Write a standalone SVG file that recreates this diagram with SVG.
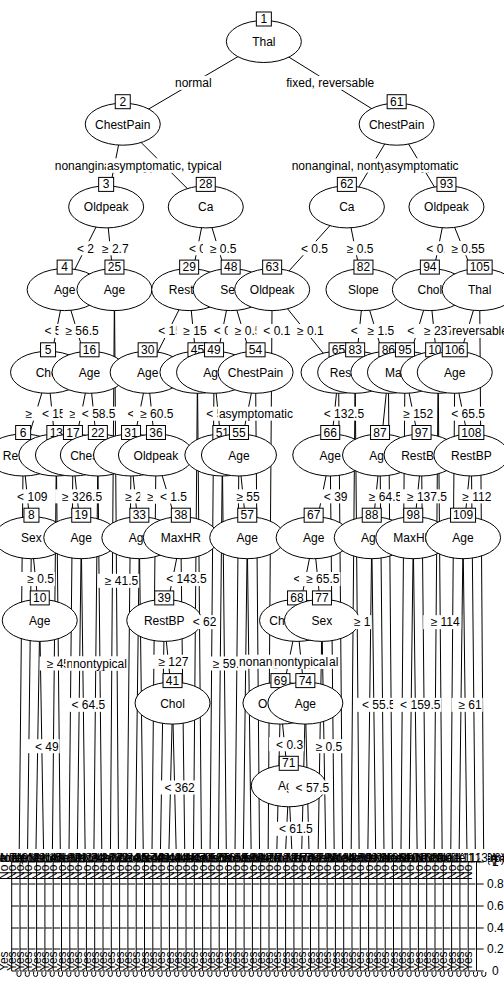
<svg xmlns="http://www.w3.org/2000/svg" width="504" height="1008" viewBox="0 0 504 1008">
<style>
.e{fill:#fff;stroke:#000}
.b{fill:#fff;stroke:#000}
.w{fill:#fff}
text{font-family:'Liberation Sans',Arial,sans-serif;font-size:12px;text-anchor:middle;fill:#000}
.c path{stroke:#000;fill:none}
.ax{text-anchor:start}
.r{text-anchor:start}
</style>
<defs>
<g id="tp"><rect x="-4.15" y="849" width="8.3" height="135" fill="#fff"/><path d="M-7.3 862V971M-7.3 862h7.2M-7.3 884h7.2M-7.3 906h7.2M-7.3 928h7.2M-7.3 949h7.2M-7.3 971h7.2M-2 972v2.5a2 2 0 0 0 4 0V972" stroke="#000" fill="none"/><text class="r" transform="translate(-11.5 880) rotate(-90)">No</text><text class="r" transform="translate(-11.5 971) rotate(-90)">Yes</text></g>
</defs>
<rect width="504" height="1008" fill="#fff"/>
<g class="c">
<path d="M263.85 41.5L122.75 124.2M263.85 41.5L396.65 124.2M122.75 124.2L106.15 206.9M122.75 124.2L205.75 206.9M106.15 206.9L64.65 289.6M106.15 206.9L114.45 289.6M64.65 289.6L48.05 372.3M64.65 289.6L89.55 372.3M48.05 372.3L23.15 455M48.05 372.3L56.35 455M23.15 455L19 872M23.15 455L31.45 537.7M31.45 537.7L27.3 872M31.45 537.7L39.75 620.4M39.75 620.4L35.6 872M39.75 620.4L43.9 872M56.35 455L52.2 872M56.35 455L60.5 872M89.55 372.3L72.95 455M89.55 372.3L97.85 455M72.95 455L68.8 872M72.95 455L81.25 537.7M81.25 537.7L77.1 872M81.25 537.7L85.4 872M97.85 455L93.7 872M97.85 455L102 872M114.45 289.6L110.3 872M114.45 289.6L118.6 872"/>
<path d="M205.75 206.9L189.15 289.6M205.75 206.9L230.65 289.6M189.15 289.6L147.65 372.3M189.15 289.6L197.45 372.3M147.65 372.3L131.05 455M147.65 372.3L155.95 455M131.05 455L126.9 872M131.05 455L139.35 537.7M139.35 537.7L135.2 872M139.35 537.7L143.5 872M155.95 455L151.8 872M155.95 455L180.85 537.7M180.85 537.7L164.25 620.4M180.85 537.7L185 872M164.25 620.4L160.1 872M164.25 620.4L172.55 703.1M172.55 703.1L168.4 872M172.55 703.1L176.7 872M197.45 372.3L193.3 872M197.45 372.3L201.6 872M230.65 289.6L214.05 372.3M230.65 289.6L255.55 372.3M214.05 372.3L209.9 872M214.05 372.3L222.35 455M222.35 455L218.2 872M222.35 455L226.5 872M255.55 372.3L238.95 455M255.55 372.3L259.7 872M238.95 455L234.8 872M238.95 455L247.25 537.7M247.25 537.7L243.1 872M247.25 537.7L251.4 872"/>
<path d="M396.65 124.2L346.85 206.9M396.65 124.2L446.45 206.9M346.85 206.9L272.15 289.6M346.85 206.9L363.45 289.6M272.15 289.6L268 872M272.15 289.6L338.55 372.3M338.55 372.3L330.25 455M338.55 372.3L342.7 872M330.25 455L313.65 537.7M330.25 455L334.4 872M313.65 537.7L297.05 620.4M313.65 537.7L321.95 620.4M297.05 620.4L280.45 703.1M297.05 620.4L305.35 703.1M280.45 703.1L276.3 872M280.45 703.1L288.75 785.8M288.75 785.8L284.6 872M288.75 785.8L292.9 872M305.35 703.1L301.2 872M305.35 703.1L309.5 872M321.95 620.4L317.8 872M321.95 620.4L326.1 872M363.45 289.6L355.15 372.3M363.45 289.6L388.35 372.3M355.15 372.3L351 872M355.15 372.3L359.3 872M388.35 372.3L380.05 455M388.35 372.3L392.5 872M380.05 455L371.75 537.7M380.05 455L384.2 872M371.75 537.7L367.6 872M371.75 537.7L375.9 872"/>
<path d="M446.45 206.9L429.85 289.6M446.45 206.9L479.65 289.6M429.85 289.6L404.95 372.3M429.85 289.6L438.15 372.3M404.95 372.3L400.8 872M404.95 372.3L421.55 455M421.55 455L413.25 537.7M421.55 455L425.7 872M413.25 537.7L409.1 872M413.25 537.7L417.4 872M438.15 372.3L434 872M438.15 372.3L442.3 872M479.65 289.6L454.75 372.3M479.65 289.6L483.8 872M454.75 372.3L450.6 872M454.75 372.3L471.35 455M471.35 455L463.05 537.7M471.35 455L475.5 872M463.05 537.7L458.9 872M463.05 537.7L467.2 872"/>
</g>
<g id="n1"><ellipse class="e" cx="263.85" cy="41.5" rx="37.5" ry="21"/><text x="263.85" y="46">Thal</text><rect class="b" x="256.35" y="12" width="15" height="14"/><text x="263.85" y="23">1</text></g>
<g id="n2"><rect class="w" x="173.95" y="75.85" width="38.7" height="14"/><text x="193.3" y="87.15">normal</text><ellipse class="e" cx="122.75" cy="124.2" rx="37.5" ry="21"/><text x="122.75" y="128.7">ChestPain</text><rect class="b" x="115.25" y="94.7" width="15" height="14"/><text x="122.75" y="105.7">2</text></g>
<g id="n3"><rect class="w" x="53.75" y="158.55" width="121.4" height="14"/><text x="114.45" y="169.85">nonanginal, nontypical</text><ellipse class="e" cx="106.15" cy="206.9" rx="37.5" ry="21"/><text x="106.15" y="211.4">Oldpeak</text><rect class="b" x="98.65" y="177.4" width="15" height="14"/><text x="106.15" y="188.4">3</text></g>
<g id="n4"><rect class="w" x="69.9" y="241.25" width="35" height="14"/><text x="90.4" y="252.55">&lt; 2.7</text><ellipse class="e" cx="64.65" cy="289.6" rx="37.5" ry="21"/><text x="64.65" y="294.1">Age</text><rect class="b" x="57.15" y="260.1" width="15" height="14"/><text x="64.65" y="271.1">4</text></g>
<g id="n5"><rect class="w" x="37.5" y="323.95" width="41.7" height="14"/><text x="61.35" y="335.25">&lt; 56.5</text><ellipse class="e" cx="48.05" cy="372.3" rx="37.5" ry="21"/><text x="48.05" y="376.8">Chol</text><rect class="b" x="40.55" y="342.8" width="15" height="14"/><text x="48.05" y="353.8">5</text></g>
<g id="n6"><rect class="w" x="18.6" y="406.65" width="38" height="14"/><text x="40.6" y="417.95">≥ 153</text><ellipse class="e" cx="23.15" cy="455" rx="37.5" ry="21"/><text x="23.15" y="459.5">RestBP</text><rect class="b" x="15.65" y="425.5" width="15" height="14"/><text x="23.15" y="436.5">6</text></g>
<g id="n7"><use href="#tp" x="19"/><text x="20" y="862">Node 7 (n = 12)</text></g>
<g id="n8"><rect class="w" x="10.1" y="489.35" width="38.4" height="14"/><text x="32.3" y="500.65">&lt; 109</text><ellipse class="e" cx="31.45" cy="537.7" rx="37.5" ry="21"/><text x="31.45" y="542.2">Sex</text><rect class="b" x="23.95" y="508.2" width="15" height="14"/><text x="31.45" y="519.2">8</text></g>
<g id="n9"><use href="#tp" x="27.3"/><text x="28.3" y="862">Node 9 (n = 7)</text></g>
<g id="n10"><rect class="w" x="20.3" y="572.05" width="34.6" height="14"/><text x="40.6" y="583.35">≥ 0.5</text><ellipse class="e" cx="39.75" cy="620.4" rx="37.5" ry="21"/><text x="39.75" y="624.9">Age</text><rect class="b" x="30.25" y="590.9" width="19" height="14"/><text x="39.75" y="601.9">10</text></g>
<g id="n11"><use href="#tp" x="35.6"/><text x="36.6" y="862">Node 11 (n = 9)</text></g>
<g id="n12"><rect class="w" x="27.95" y="739.2" width="31.7" height="14"/><text x="46.8" y="750.5">&lt; 49</text><use href="#tp" x="43.9"/><text x="44.9" y="862">Node 12 (n = 14)</text></g>
<g id="n13"><rect class="w" x="35" y="406.65" width="38.4" height="14"/><text x="57.2" y="417.95">&lt; 153</text><ellipse class="e" cx="56.35" cy="455" rx="37.5" ry="21"/><text x="56.35" y="459.5">Age</text><rect class="b" x="46.85" y="425.5" width="19" height="14"/><text x="56.35" y="436.5">13</text></g>
<g id="n14"><use href="#tp" x="52.2"/><text x="53.2" y="862">Node 14 (n = 8)</text></g>
<g id="n15"><rect class="w" x="39.75" y="656.5" width="41.3" height="14"/><text x="63.4" y="667.8">≥ 45.5</text><use href="#tp" x="60.5"/><text x="61.5" y="862">Node 15 (n = 11)</text></g>
<g id="n16"><rect class="w" x="58.45" y="323.95" width="41.3" height="14"/><text x="82.1" y="335.25">≥ 56.5</text><ellipse class="e" cx="89.55" cy="372.3" rx="37.5" ry="21"/><text x="89.55" y="376.8">Age</text><rect class="b" x="80.05" y="342.8" width="19" height="14"/><text x="89.55" y="353.8">16</text></g>
<g id="n17"><rect class="w" x="62.6" y="406.65" width="41.3" height="14"/><text x="86.25" y="417.95">≥ 58.5</text><ellipse class="e" cx="72.95" cy="455" rx="37.5" ry="21"/><text x="72.95" y="459.5">Chol</text><rect class="b" x="63.45" y="425.5" width="19" height="14"/><text x="72.95" y="436.5">17</text></g>
<g id="n18"><use href="#tp" x="68.8"/><text x="69.8" y="862">Node 18 (n = 6)</text></g>
<g id="n19"><rect class="w" x="55.1" y="489.35" width="48" height="14"/><text x="82.1" y="500.65">≥ 326.5</text><ellipse class="e" cx="81.25" cy="537.7" rx="37.5" ry="21"/><text x="81.25" y="542.2">Age</text><rect class="b" x="71.75" y="508.2" width="19" height="14"/><text x="81.25" y="519.2">19</text></g>
<g id="n20"><use href="#tp" x="77.1"/><text x="78.1" y="862">Node 20 (n = 7)</text></g>
<g id="n21"><rect class="w" x="64.45" y="697.85" width="41.7" height="14"/><text x="88.3" y="709.15">&lt; 64.5</text><use href="#tp" x="85.4"/><text x="86.4" y="862">Node 21 (n = 10)</text></g>
<g id="n22"><rect class="w" x="74.85" y="406.65" width="41.7" height="14"/><text x="98.7" y="417.95">&lt; 58.5</text><ellipse class="e" cx="97.85" cy="455" rx="37.5" ry="21"/><text x="97.85" y="459.5">ChestPain</text><rect class="b" x="88.35" y="425.5" width="19" height="14"/><text x="97.85" y="436.5">22</text></g>
<g id="n23"><rect class="w" x="65.45" y="656.5" width="60.7" height="14"/><text x="95.8" y="667.8">nonanginal</text><use href="#tp" x="93.7"/><text x="94.7" y="862">Node 23 (n = 9)</text></g>
<g id="n24"><rect class="w" x="71.9" y="656.5" width="56" height="14"/><text x="99.9" y="667.8">nontypical</text><use href="#tp" x="102"/><text x="103" y="862">Node 24 (n = 13)</text></g>
<g id="n25"><rect class="w" x="95" y="241.25" width="34.6" height="14"/><text x="115.3" y="252.55">≥ 2.7</text><ellipse class="e" cx="114.45" cy="289.6" rx="37.5" ry="21"/><text x="114.45" y="294.1">Age</text><rect class="b" x="104.95" y="260.1" width="19" height="14"/><text x="114.45" y="271.1">25</text></g>
<g id="n26"><use href="#tp" x="110.3"/><text x="111.3" y="862">Node 26 (n = 5)</text></g>
<g id="n27"><rect class="w" x="97.85" y="573.8" width="41.3" height="14"/><text x="121.5" y="585.1">≥ 41.5</text><use href="#tp" x="118.6"/><text x="119.6" y="862">Node 27 (n = 8)</text></g>
<g id="n28"><rect class="w" x="105.9" y="158.55" width="116.7" height="14"/><text x="164.25" y="169.85">asymptomatic, typical</text><ellipse class="e" cx="205.75" cy="206.9" rx="37.5" ry="21"/><text x="205.75" y="211.4">Ca</text><rect class="b" x="196.25" y="177.4" width="19" height="14"/><text x="205.75" y="188.4">28</text></g>
<g id="n29"><rect class="w" x="181.95" y="241.25" width="35" height="14"/><text x="202.45" y="252.55">&lt; 0.5</text><ellipse class="e" cx="189.15" cy="289.6" rx="37.5" ry="21"/><text x="189.15" y="294.1">RestBP</text><rect class="b" x="179.65" y="260.1" width="19" height="14"/><text x="189.15" y="271.1">29</text></g>
<g id="n30"><rect class="w" x="151.2" y="323.95" width="38.4" height="14"/><text x="173.4" y="335.25">&lt; 154</text><ellipse class="e" cx="147.65" cy="372.3" rx="37.5" ry="21"/><text x="147.65" y="376.8">Age</text><rect class="b" x="138.15" y="342.8" width="19" height="14"/><text x="147.65" y="353.8">30</text></g>
<g id="n31"><rect class="w" x="120.5" y="406.65" width="41.7" height="14"/><text x="144.35" y="417.95">&lt; 60.5</text><ellipse class="e" cx="131.05" cy="455" rx="37.5" ry="21"/><text x="131.05" y="459.5">Chol</text><rect class="b" x="121.55" y="425.5" width="19" height="14"/><text x="131.05" y="436.5">31</text></g>
<g id="n32"><use href="#tp" x="126.9"/><text x="127.9" y="862">Node 32 (n = 12)</text></g>
<g id="n33"><rect class="w" x="118.2" y="489.35" width="38" height="14"/><text x="140.2" y="500.65">≥ 233</text><ellipse class="e" cx="139.35" cy="537.7" rx="37.5" ry="21"/><text x="139.35" y="542.2">Age</text><rect class="b" x="129.85" y="508.2" width="19" height="14"/><text x="139.35" y="519.2">33</text></g>
<g id="n34"><use href="#tp" x="135.2"/><text x="136.2" y="862">Node 34 (n = 6)</text></g>
<g id="n35"><use href="#tp" x="143.5"/><text x="144.5" y="862">Node 35 (n = 9)</text></g>
<g id="n36"><rect class="w" x="133.15" y="406.65" width="41.3" height="14"/><text x="156.8" y="417.95">≥ 60.5</text><ellipse class="e" cx="155.95" cy="455" rx="37.5" ry="21"/><text x="155.95" y="459.5">Oldpeak</text><rect class="b" x="146.45" y="425.5" width="19" height="14"/><text x="155.95" y="436.5">36</text></g>
<g id="n37"><rect class="w" x="140.2" y="489.35" width="34.6" height="14"/><text x="160.5" y="500.65">≥ 1.5</text><use href="#tp" x="151.8"/><text x="152.8" y="862">Node 37 (n = 7)</text></g>
<g id="n38"><rect class="w" x="152.9" y="489.35" width="35" height="14"/><text x="173.4" y="500.65">&lt; 1.5</text><ellipse class="e" cx="180.85" cy="537.7" rx="37.5" ry="21"/><text x="180.85" y="542.2">MaxHR</text><rect class="b" x="171.35" y="508.2" width="19" height="14"/><text x="180.85" y="519.2">38</text></g>
<g id="n39"><ellipse class="e" cx="164.25" cy="620.4" rx="37.5" ry="21"/><text x="164.25" y="624.9">RestBP</text><rect class="b" x="154.75" y="590.9" width="19" height="14"/><text x="164.25" y="601.9">39</text></g>
<g id="n40"><use href="#tp" x="160.1"/><text x="161.1" y="862">Node 40 (n = 8)</text></g>
<g id="n41"><rect class="w" x="151.4" y="654.75" width="38" height="14"/><text x="173.4" y="666.05">≥ 127</text><ellipse class="e" cx="172.55" cy="703.1" rx="37.5" ry="21"/><text x="172.55" y="707.6">Chol</text><rect class="b" x="163.05" y="673.6" width="19" height="14"/><text x="172.55" y="684.6">41</text></g>
<g id="n42"><use href="#tp" x="168.4"/><text x="169.4" y="862">Node 42 (n = 10)</text></g>
<g id="n43"><rect class="w" x="157.4" y="780.45" width="38.4" height="14"/><text x="179.6" y="791.75">&lt; 362</text><use href="#tp" x="176.7"/><text x="177.7" y="862">Node 43 (n = 5)</text></g>
<g id="n44"><rect class="w" x="159.2" y="572.05" width="48.4" height="14"/><text x="186.4" y="583.35">&lt; 143.5</text><use href="#tp" x="185"/><text x="186" y="862">Node 44 (n = 11)</text></g>
<g id="n45"><rect class="w" x="176.3" y="323.95" width="38" height="14"/><text x="198.3" y="335.25">≥ 154</text><ellipse class="e" cx="197.45" cy="372.3" rx="37.5" ry="21"/><text x="197.45" y="376.8">Age</text><rect class="b" x="187.95" y="342.8" width="19" height="14"/><text x="197.45" y="353.8">45</text></g>
<g id="n46"><use href="#tp" x="193.3"/><text x="194.3" y="862">Node 46 (n = 6)</text></g>
<g id="n47"><rect class="w" x="185.65" y="615.15" width="31.7" height="14"/><text x="204.5" y="626.45">&lt; 62</text><use href="#tp" x="201.6"/><text x="202.6" y="862">Node 47 (n = 9)</text></g>
<g id="n48"><rect class="w" x="202.9" y="241.25" width="34.6" height="14"/><text x="223.2" y="252.55">≥ 0.5</text><ellipse class="e" cx="230.65" cy="289.6" rx="37.5" ry="21"/><text x="230.65" y="294.1">Sex</text><rect class="b" x="221.15" y="260.1" width="19" height="14"/><text x="230.65" y="271.1">48</text></g>
<g id="n49"><rect class="w" x="206.85" y="323.95" width="35" height="14"/><text x="227.35" y="335.25">&lt; 0.5</text><ellipse class="e" cx="214.05" cy="372.3" rx="37.5" ry="21"/><text x="214.05" y="376.8">Age</text><rect class="b" x="204.55" y="342.8" width="19" height="14"/><text x="214.05" y="353.8">49</text></g>
<g id="n50"><use href="#tp" x="209.9"/><text x="210.9" y="862">Node 50 (n = 12)</text></g>
<g id="n51"><rect class="w" x="199.35" y="406.65" width="41.7" height="14"/><text x="223.2" y="417.95">&lt; 55.5</text><ellipse class="e" cx="222.35" cy="455" rx="37.5" ry="21"/><text x="222.35" y="459.5">Age</text><rect class="b" x="212.85" y="425.5" width="19" height="14"/><text x="222.35" y="436.5">51</text></g>
<g id="n52"><use href="#tp" x="218.2"/><text x="219.2" y="862">Node 52 (n = 7)</text></g>
<g id="n53"><rect class="w" x="205.75" y="656.5" width="41.3" height="14"/><text x="229.4" y="667.8">≥ 59.5</text><use href="#tp" x="226.5"/><text x="227.5" y="862">Node 53 (n = 8)</text></g>
<g id="n54"><rect class="w" x="227.8" y="323.95" width="34.6" height="14"/><text x="248.1" y="335.25">≥ 0.5</text><ellipse class="e" cx="255.55" cy="372.3" rx="37.5" ry="21"/><text x="255.55" y="376.8">ChestPain</text><rect class="b" x="246.05" y="342.8" width="19" height="14"/><text x="255.55" y="353.8">54</text></g>
<g id="n55"><ellipse class="e" cx="238.95" cy="455" rx="37.5" ry="21"/><text x="238.95" y="459.5">Age</text><rect class="b" x="229.45" y="425.5" width="19" height="14"/><text x="238.95" y="436.5">55</text></g>
<g id="n56"><use href="#tp" x="234.8"/><text x="235.8" y="862">Node 56 (n = 10)</text></g>
<g id="n57"><rect class="w" x="229.45" y="489.35" width="31.3" height="14"/><text x="248.1" y="500.65">≥ 55</text><ellipse class="e" cx="247.25" cy="537.7" rx="37.5" ry="21"/><text x="247.25" y="542.2">Age</text><rect class="b" x="237.75" y="508.2" width="19" height="14"/><text x="247.25" y="519.2">57</text></g>
<g id="n58"><use href="#tp" x="243.1"/><text x="244.1" y="862">Node 58 (n = 6)</text></g>
<g id="n59"><use href="#tp" x="251.4"/><text x="252.4" y="862">Node 59 (n = 9)</text></g>
<g id="n60"><rect class="w" x="217.9" y="406.65" width="76" height="14"/><text x="255.9" y="417.95">asymptomatic</text><use href="#tp" x="259.7"/><text x="260.7" y="862">Node 60 (n = 7)</text></g>
<g id="n61"><rect class="w" x="285.25" y="75.85" width="90" height="14"/><text x="330.25" y="87.15">fixed, reversable</text><ellipse class="e" cx="396.65" cy="124.2" rx="37.5" ry="21"/><text x="396.65" y="128.7">ChestPain</text><rect class="b" x="387.15" y="94.7" width="19" height="14"/><text x="396.65" y="105.7">61</text></g>
<g id="n62"><rect class="w" x="290.75" y="158.55" width="162" height="14"/><text x="371.75" y="169.85">nonanginal, nontypical, typical</text><ellipse class="e" cx="346.85" cy="206.9" rx="37.5" ry="21"/><text x="346.85" y="211.4">Ca</text><rect class="b" x="337.35" y="177.4" width="19" height="14"/><text x="346.85" y="188.4">62</text></g>
<g id="n63"><rect class="w" x="294" y="241.25" width="35" height="14"/><text x="314.5" y="252.55">&lt; 0.5</text><ellipse class="e" cx="272.15" cy="289.6" rx="37.5" ry="21"/><text x="272.15" y="294.1">Oldpeak</text><rect class="b" x="262.65" y="260.1" width="19" height="14"/><text x="272.15" y="271.1">63</text></g>
<g id="n64"><rect class="w" x="256.36" y="323.95" width="35" height="14"/><text x="276.86" y="335.25">&lt; 0.1</text><use href="#tp" x="268"/><text x="269" y="862">Node 64 (n = 14)</text></g>
<g id="n65"><rect class="w" x="290.05" y="323.95" width="34.6" height="14"/><text x="310.35" y="335.25">≥ 0.1</text><ellipse class="e" cx="338.55" cy="372.3" rx="37.5" ry="21"/><text x="338.55" y="376.8">RestBP</text><rect class="b" x="329.05" y="342.8" width="19" height="14"/><text x="338.55" y="353.8">65</text></g>
<g id="n66"><ellipse class="e" cx="330.25" cy="455" rx="37.5" ry="21"/><text x="330.25" y="459.5">Age</text><rect class="b" x="320.75" y="425.5" width="19" height="14"/><text x="330.25" y="436.5">66</text></g>
<g id="n67"><ellipse class="e" cx="313.65" cy="537.7" rx="37.5" ry="21"/><text x="313.65" y="542.2">Age</text><rect class="b" x="304.15" y="508.2" width="19" height="14"/><text x="313.65" y="519.2">67</text></g>
<g id="n68"><rect class="w" x="286.5" y="572.05" width="41.7" height="14"/><text x="310.35" y="583.35">&lt; 65.5</text><ellipse class="e" cx="297.05" cy="620.4" rx="37.5" ry="21"/><text x="297.05" y="624.9">ChestPain</text><rect class="b" x="287.55" y="590.9" width="19" height="14"/><text x="297.05" y="601.9">68</text></g>
<g id="n69"><rect class="w" x="238.05" y="654.75" width="101.4" height="14"/><text x="288.75" y="666.05">nonanginal, typical</text><ellipse class="e" cx="280.45" cy="703.1" rx="37.5" ry="21"/><text x="280.45" y="707.6">Oldpeak</text><rect class="b" x="270.95" y="673.6" width="19" height="14"/><text x="280.45" y="684.6">69</text></g>
<g id="n70"><use href="#tp" x="276.3"/><text x="277.3" y="862">Node 70 (n = 8)</text></g>
<g id="n71"><rect class="w" x="269.1" y="737.25" width="35" height="14"/><text x="289.6" y="748.55">&lt; 0.3</text><ellipse class="e" cx="288.75" cy="785.8" rx="37.5" ry="21"/><text x="288.75" y="790.3">Age</text><rect class="b" x="279.25" y="756.3" width="19" height="14"/><text x="288.75" y="767.3">71</text></g>
<g id="n72"><use href="#tp" x="284.6"/><text x="285.6" y="862">Node 72 (n = 6)</text></g>
<g id="n73"><rect class="w" x="271.95" y="821.8" width="41.7" height="14"/><text x="295.8" y="833.1">&lt; 61.5</text><use href="#tp" x="292.9"/><text x="293.9" y="862">Node 73 (n = 7)</text></g>
<g id="n74"><rect class="w" x="273.2" y="654.75" width="56" height="14"/><text x="301.2" y="666.05">nontypical</text><ellipse class="e" cx="305.35" cy="703.1" rx="37.5" ry="21"/><text x="305.35" y="707.6">Age</text><rect class="b" x="295.85" y="673.6" width="19" height="14"/><text x="305.35" y="684.6">74</text></g>
<g id="n75"><use href="#tp" x="301.2"/><text x="302.2" y="862">Node 75 (n = 9)</text></g>
<g id="n76"><rect class="w" x="288.55" y="780.45" width="41.7" height="14"/><text x="312.4" y="791.75">&lt; 57.5</text><use href="#tp" x="309.5"/><text x="310.5" y="862">Node 76 (n = 5)</text></g>
<g id="n77"><rect class="w" x="299.15" y="572.05" width="41.3" height="14"/><text x="322.8" y="583.35">≥ 65.5</text><ellipse class="e" cx="321.95" cy="620.4" rx="37.5" ry="21"/><text x="321.95" y="624.9">Sex</text><rect class="b" x="312.45" y="590.9" width="19" height="14"/><text x="321.95" y="601.9">77</text></g>
<g id="n78"><use href="#tp" x="317.8"/><text x="318.8" y="862">Node 78 (n = 10)</text></g>
<g id="n79"><rect class="w" x="308.7" y="739.2" width="34.6" height="14"/><text x="329" y="750.5">≥ 0.5</text><use href="#tp" x="326.1"/><text x="327.1" y="862">Node 79 (n = 8)</text></g>
<g id="n80"><rect class="w" x="316.85" y="489.35" width="31.7" height="14"/><text x="335.7" y="500.65">&lt; 39</text><use href="#tp" x="334.4"/><text x="335.4" y="862">Node 80 (n = 6)</text></g>
<g id="n81"><rect class="w" x="316.7" y="406.65" width="48.4" height="14"/><text x="343.9" y="417.95">&lt; 132.5</text><use href="#tp" x="342.7"/><text x="343.7" y="862">Node 81 (n = 12)</text></g>
<g id="n82"><rect class="w" x="339.85" y="241.25" width="34.6" height="14"/><text x="360.15" y="252.55">≥ 0.5</text><ellipse class="e" cx="363.45" cy="289.6" rx="37.5" ry="21"/><text x="363.45" y="294.1">Slope</text><rect class="b" x="353.95" y="260.1" width="19" height="14"/><text x="363.45" y="271.1">82</text></g>
<g id="n83"><rect class="w" x="343.8" y="323.95" width="35" height="14"/><text x="364.3" y="335.25">&lt; 1.5</text><ellipse class="e" cx="355.15" cy="372.3" rx="37.5" ry="21"/><text x="355.15" y="376.8">RestECG</text><rect class="b" x="345.65" y="342.8" width="19" height="14"/><text x="355.15" y="353.8">83</text></g>
<g id="n84"><use href="#tp" x="351"/><text x="352" y="862">Node 84 (n = 9)</text></g>
<g id="n85"><rect class="w" x="346.9" y="615.15" width="24.6" height="14"/><text x="362.2" y="626.45">≥ 1</text><use href="#tp" x="359.3"/><text x="360.3" y="862">Node 85 (n = 7)</text></g>
<g id="n86"><rect class="w" x="360.6" y="323.95" width="34.6" height="14"/><text x="380.9" y="335.25">≥ 1.5</text><ellipse class="e" cx="388.35" cy="372.3" rx="37.5" ry="21"/><text x="388.35" y="376.8">Age</text><rect class="b" x="378.85" y="342.8" width="19" height="14"/><text x="388.35" y="353.8">86</text></g>
<g id="n87"><ellipse class="e" cx="380.05" cy="455" rx="37.5" ry="21"/><text x="380.05" y="459.5">Age</text><rect class="b" x="370.55" y="425.5" width="19" height="14"/><text x="380.05" y="436.5">87</text></g>
<g id="n88"><ellipse class="e" cx="371.75" cy="537.7" rx="37.5" ry="21"/><text x="371.75" y="542.2">Age</text><rect class="b" x="362.25" y="508.2" width="19" height="14"/><text x="371.75" y="519.2">88</text></g>
<g id="n89"><use href="#tp" x="367.6"/><text x="368.6" y="862">Node 89 (n = 6)</text></g>
<g id="n90"><rect class="w" x="354.95" y="697.85" width="41.7" height="14"/><text x="378.8" y="709.15">&lt; 55.5</text><use href="#tp" x="375.9"/><text x="376.9" y="862">Node 90 (n = 11)</text></g>
<g id="n91"><rect class="w" x="361.85" y="489.35" width="41.3" height="14"/><text x="385.5" y="500.65">≥ 64.5</text><use href="#tp" x="384.2"/><text x="385.2" y="862">Node 91 (n = 8)</text></g>
<g id="n92"><use href="#tp" x="392.5"/><text x="393.5" y="862">Node 92 (n = 10)</text></g>
<g id="n93"><rect class="w" x="383.55" y="158.55" width="76" height="14"/><text x="421.55" y="169.85">asymptomatic</text><ellipse class="e" cx="446.45" cy="206.9" rx="37.5" ry="21"/><text x="446.45" y="211.4">Oldpeak</text><rect class="b" x="436.95" y="177.4" width="19" height="14"/><text x="446.45" y="188.4">93</text></g>
<g id="n94"><rect class="w" x="419.3" y="241.25" width="41.7" height="14"/><text x="443.15" y="252.55">&lt; 0.55</text><ellipse class="e" cx="429.85" cy="289.6" rx="37.5" ry="21"/><text x="429.85" y="294.1">Chol</text><rect class="b" x="420.35" y="260.1" width="19" height="14"/><text x="429.85" y="271.1">94</text></g>
<g id="n95"><rect class="w" x="400.2" y="323.95" width="38.4" height="14"/><text x="422.4" y="335.25">&lt; 237</text><ellipse class="e" cx="404.95" cy="372.3" rx="37.5" ry="21"/><text x="404.95" y="376.8">MaxHR</text><rect class="b" x="395.45" y="342.8" width="19" height="14"/><text x="404.95" y="353.8">95</text></g>
<g id="n96"><use href="#tp" x="400.8"/><text x="401.8" y="862">Node 96 (n = 7)</text></g>
<g id="n97"><rect class="w" x="396.25" y="406.65" width="38" height="14"/><text x="418.25" y="417.95">≥ 152</text><ellipse class="e" cx="421.55" cy="455" rx="37.5" ry="21"/><text x="421.55" y="459.5">RestBP</text><rect class="b" x="412.05" y="425.5" width="19" height="14"/><text x="421.55" y="436.5">97</text></g>
<g id="n98"><ellipse class="e" cx="413.25" cy="537.7" rx="37.5" ry="21"/><text x="413.25" y="542.2">MaxHR</text><rect class="b" x="403.75" y="508.2" width="19" height="14"/><text x="413.25" y="519.2">98</text></g>
<g id="n99"><use href="#tp" x="409.1"/><text x="410.1" y="862">Node 99 (n = 9)</text></g>
<g id="n100"><rect class="w" x="393.1" y="697.85" width="48.4" height="14"/><text x="420.3" y="709.15">&lt; 159.5</text><use href="#tp" x="417.4"/><text x="418.4" y="862">Node 100 (n = 6)</text></g>
<g id="n101"><rect class="w" x="400" y="489.35" width="48" height="14"/><text x="427" y="500.65">≥ 137.5</text><use href="#tp" x="425.7"/><text x="426.7" y="862">Node 101 (n = 8)</text></g>
<g id="n102"><rect class="w" x="417" y="323.95" width="38" height="14"/><text x="439" y="335.25">≥ 237</text><ellipse class="e" cx="438.15" cy="372.3" rx="37.5" ry="21"/><text x="438.15" y="376.8">Age</text><rect class="b" x="425.65" y="342.8" width="25" height="14"/><text x="438.15" y="353.8">102</text></g>
<g id="n103"><use href="#tp" x="434"/><text x="435" y="862">Node 103 (n = 10)</text></g>
<g id="n104"><rect class="w" x="423.2" y="615.15" width="38" height="14"/><text x="445.2" y="626.45">≥ 114</text><use href="#tp" x="442.3"/><text x="443.3" y="862">Node 104 (n = 7)</text></g>
<g id="n105"><rect class="w" x="444.4" y="241.25" width="41.3" height="14"/><text x="468.05" y="252.55">≥ 0.55</text><ellipse class="e" cx="479.65" cy="289.6" rx="37.5" ry="21"/><text x="479.65" y="294.1">Thal</text><rect class="b" x="467.15" y="260.1" width="25" height="14"/><text x="479.65" y="271.1">105</text></g>
<g id="n106"><rect class="w" x="453.55" y="323.95" width="27.3" height="14"/><text x="467.2" y="335.25">fixed</text><ellipse class="e" cx="454.75" cy="372.3" rx="37.5" ry="21"/><text x="454.75" y="376.8">Age</text><rect class="b" x="442.25" y="342.8" width="25" height="14"/><text x="454.75" y="353.8">106</text></g>
<g id="n107"><use href="#tp" x="450.6"/><text x="451.6" y="862">Node 107 (n = 9)</text></g>
<g id="n108"><rect class="w" x="444.2" y="406.65" width="41.7" height="14"/><text x="468.05" y="417.95">&lt; 65.5</text><ellipse class="e" cx="471.35" cy="455" rx="37.5" ry="21"/><text x="471.35" y="459.5">RestBP</text><rect class="b" x="458.85" y="425.5" width="25" height="14"/><text x="471.35" y="436.5">108</text></g>
<g id="n109"><ellipse class="e" cx="463.05" cy="537.7" rx="37.5" ry="21"/><text x="463.05" y="542.2">Age</text><rect class="b" x="450.55" y="508.2" width="25" height="14"/><text x="463.05" y="519.2">109</text></g>
<g id="n110"><use href="#tp" x="458.9"/><text x="459.9" y="862">Node 110 (n = 6)</text></g>
<g id="n111"><rect class="w" x="451.45" y="697.85" width="31.3" height="14"/><text x="470.1" y="709.15">≥ 61</text><use href="#tp" x="467.2"/><text x="468.2" y="862">Node 111 (n = 8)</text></g>
<g id="n112"><rect class="w" x="454.8" y="489.35" width="38" height="14"/><text x="476.8" y="500.65">≥ 112</text><use href="#tp" x="475.5"/><text x="476.5" y="862">Node 112 (n = 7)</text></g>
<g id="n113"><rect class="w" x="450.9" y="323.95" width="58" height="14"/><text x="479.9" y="335.25">reversable</text><use href="#tp" x="483.8"/><text x="484.8" y="862">Node 113 (n = 25)</text><text class="ax" x="492" y="866">1</text><text class="ax" x="487" y="888">0.8</text><text class="ax" x="487" y="910">0.6</text><text class="ax" x="487" y="932">0.4</text><text class="ax" x="487" y="953">0.2</text><text class="ax" x="492" y="975">0</text></g>
</svg>
